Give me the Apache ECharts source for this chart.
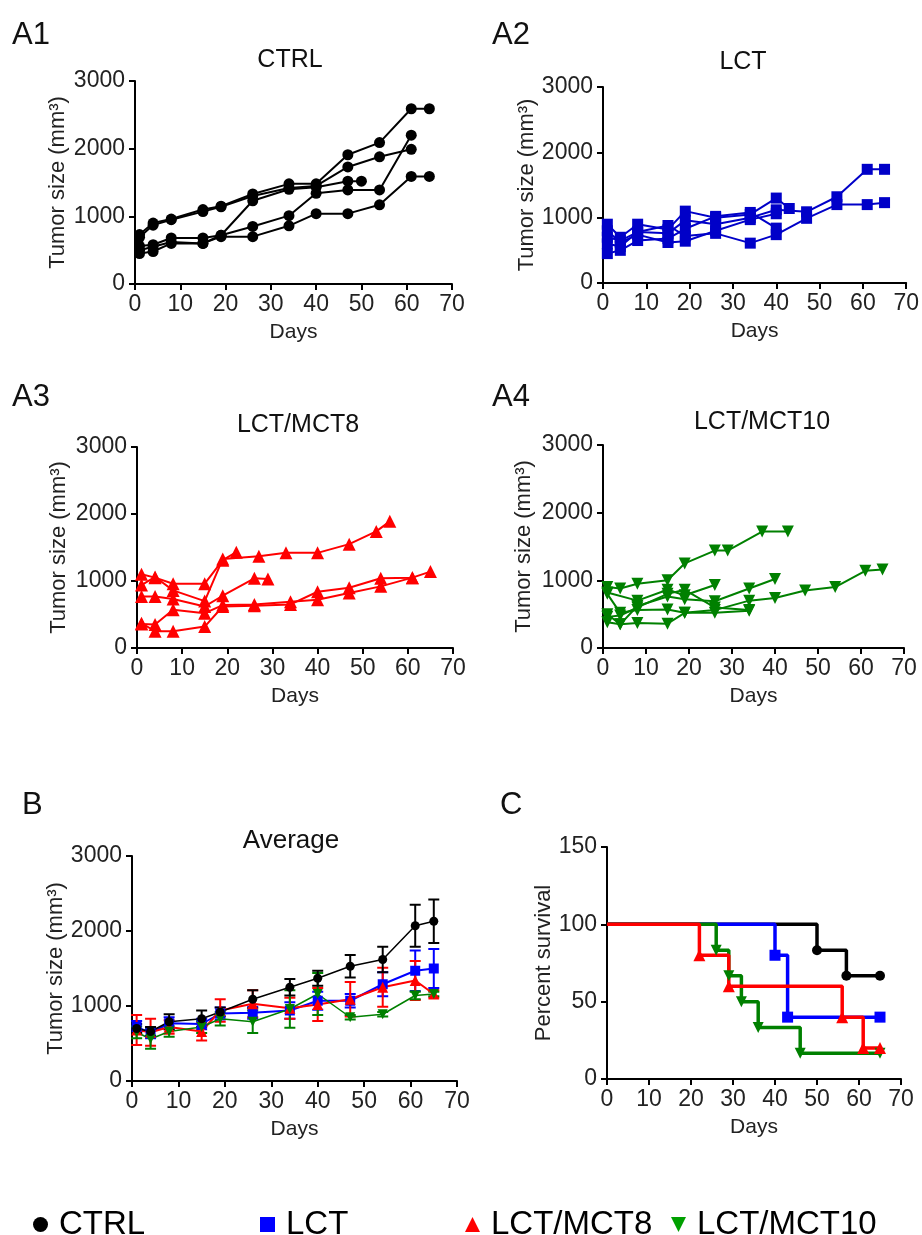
<!DOCTYPE html>
<html>
<head>
<meta charset="utf-8">
<script src="https://cdn.jsdelivr.net/npm/echarts@6/dist/echarts.min.js"></script>
<style>
  html, body { margin: 0; padding: 0; background: #fff; }
  #chart { width: 922px; height: 1235px; }
</style>
</head>
<body>
<div id="chart"></div>
<script>
// individual mice, [day, tumor size mm3]
const ctrlMice = [
  [[1,730],[4,900],[8,960],[15,1100],[19,1150],[26,1330],[34,1480],[40,1480],[47,1910],[54,2090],[61,2590],[65,2590]],
  [[1,690],[4,870],[8,950],[15,1070],[19,1140],[26,1300],[34,1420],[40,1450],[47,1730],[54,1880],[61,1990]],
  [[1,560],[4,580],[8,680],[15,680],[19,720],[26,1230],[34,1400],[40,1430],[47,1520],[50,1520]],
  [[1,500],[4,550],[8,620],[15,600],[19,720],[26,850],[34,1010],[40,1340],[47,1390],[54,1390],[61,2200]],
  [[1,450],[4,480],[8,600],[15,600],[19,700],[26,700],[34,860],[40,1040],[47,1040],[54,1170],[61,1590],[65,1590]]
];
const lctMice = [
  [[1,900],[4,700],[8,900],[15,820],[19,1100],[26,1000],[34,1050],[40,1300],[43,1140]],
  [[1,700],[4,650],[8,780],[15,760],[19,960],[26,900],[34,1000],[40,1120],[47,1090],[54,1320],[61,1740],[65,1740]],
  [[1,450],[4,500],[8,650],[15,680],[19,830],[26,1020],[34,1080],[40,840]],
  [[1,600],[4,560],[8,780],[15,880],[19,720],[26,760],[34,610],[40,740],[47,990],[54,1200],[61,1200],[65,1230]],
  [[1,800],[4,620],[8,740],[15,620],[19,640],[26,800],[34,970],[40,1060]]
];
const mct8Mice = [
  [[1,1100],[4,1050],[8,960],[15,960],[19,1310],[22,1430]],
  [[1,940],[4,1060],[8,860],[15,700],[19,1330],[27,1370],[33,1420],[40,1420],[47,1550],[53,1740],[56,1890]],
  [[1,770],[4,770],[8,730],[15,620],[19,780],[26,1040],[29,1030]],
  [[1,360],[4,350],[8,570],[15,520],[19,640],[26,650],[34,690],[40,720],[47,820],[54,920],[61,1050]],
  [[1,370],[4,250],[8,250],[15,320],[19,620],[26,630],[34,650],[40,840],[47,900],[54,1040],[61,1050],[65,1140]]
];
const mct10Mice = [
  [[1,900],[4,880],[8,950],[15,1000],[19,1250],[26,1440],[29,1440],[37,1720],[43,1720]],
  [[1,800],[4,520],[8,560],[15,570],[19,520],[26,560],[34,700],[40,740],[47,850],[54,900],[61,1140],[65,1160]],
  [[1,500],[4,350],[8,620],[15,760],[19,720],[26,690],[34,880],[40,1020]],
  [[1,820],[8,700],[15,860],[19,780],[26,930]],
  [[1,380],[4,350],[8,370],[15,360],[19,520],[26,520],[34,550]],
  [[1,460],[4,480],[8,600],[15,800],[19,860],[26,600],[34,560]]
];

// group averages
const avgDays = [1, 4, 8, 15, 19, 26, 34, 40, 47, 54, 61, 65];
const ctrlMean = [700, 660, 790, 830, 920, 1090, 1250, 1370, 1530, 1620, 2070, 2130];
const ctrlErr = [60, 60, 100, 110, 60, 120, 110, 100, 150, 170, 280, 290];
const lctMean = [720, 640, 770, 760, 900, 910, 940, 1070, 1070, 1290, 1470, 1500];
const lctErr = [80, 70, 80, 70, 80, 80, 110, 120, 90, 160, 270, 260];
const mct8Mean = [680, 650, 720, 660, 940, 1030, 970, 1020, 1090, 1250, 1340, 1160];
const mct8Err = [200, 180, 90, 120, 150, 180, 140, 220, 230, 260, 260, 50];
const mct10Mean = [650, 560, 660, 720, 830, 790, 960, 1160, 850, 890, 1140, 1160];
const mct10Err = [80, 130, 70, 80, 90, 150, 250, 280, 30, 30, 50, 30];

// survival, [day, percent]
const ctrlSurv = [[0,100],[50,83.3],[57,66.7],[65,66.7]];
const lctSurv = [[0,100],[40,80],[43,40],[65,40]];
const mct8Surv = [[0,100],[22,80],[29,60],[56,40],[61,20],[65,20]];
const mct10Surv = [[0,100],[26,83.3],[29,66.7],[32,50],[36,33.3],[46,16.7],[65,16.7]];

const groupNames = ['CTRL', 'LCT', 'LCT/MCT8', 'LCT/MCT10'];
const panelTitles = ['CTRL', 'LCT', 'LCT/MCT8', 'LCT/MCT10', 'Average'];

const FONT = 'Liberation Sans, Arial, sans-serif';
const downTri = 'path://M0,0L10,0L5,10Z';

const chart = echarts.init(document.getElementById('chart'));

const grids = [
  {left: 135, top: 81, width: 317, height: 203},
  {left: 603, top: 87, width: 309, height: 196},
  {left: 137, top: 447, width: 316, height: 201},
  {left: 603, top: 445, width: 301, height: 203},
  {left: 132, top: 856, width: 325, height: 225},
  {left: 607, top: 847, width: 294, height: 232}
];

const axisCommon = {
  axisLine: {lineStyle: {color: '#000', width: 2}},
  axisTick: {length: 6, lineStyle: {color: '#000', width: 2}},
  splitLine: {show: false},
  nameTextStyle: {fontSize: 22, color: '#222', fontFamily: FONT}
};
const plainNum = v => String(v);

const xAxes = grids.map((g, i) => Object.assign({}, axisCommon, {
  type: 'value', gridIndex: i, min: 0, max: 70, interval: 10,
  name: 'Days', nameLocation: 'middle', nameGap: 38,
  nameTextStyle: {fontSize: 21, color: '#222', fontFamily: FONT},
  axisLabel: {fontSize: 23, color: '#222', fontFamily: FONT, margin: 9, formatter: plainNum}
}));

const yNameGaps = [66, 64, 67, 68, 65, 48];
const yAxes = grids.map((g, i) => Object.assign({}, axisCommon, {
  type: 'value', gridIndex: i, min: 0,
  max: i === 5 ? 150 : 3000, interval: i === 5 ? 50 : 1000,
  name: i === 5 ? 'Percent survival' : 'Tumor size (mm³)',
  nameLocation: 'middle', nameGap: yNameGaps[i],
  axisLabel: {fontSize: 23, color: '#222', fontFamily: FONT, margin: 10, formatter: plainNum}
}));

const series = [];

const miceGroups = [
  {mice: ctrlMice, color: '#000000', symbol: 'circle', size: 11},
  {mice: lctMice, color: '#0000c8', symbol: 'rect', size: 11},
  {mice: mct8Mice, color: '#ff0000', symbol: 'triangle', size: 13},
  {mice: mct10Mice, color: '#008000', symbol: downTri, size: 12}
];
miceGroups.forEach((grp, gi) => {
  grp.mice.forEach(m => {
    series.push({
      name: groupNames[gi], type: 'line', xAxisIndex: gi, yAxisIndex: gi,
      data: m, symbol: grp.symbol, symbolSize: grp.size,
      lineStyle: {color: grp.color, width: 2}, itemStyle: {color: grp.color},
      animation: false
    });
  });
});

// averages with error bars (panel B)
const avgGroups = [
  {name: 'LCT', mean: lctMean, err: lctErr, color: '#0000ff', symbol: 'rect', size: 10, lw: 2},
  {name: 'LCT/MCT8', mean: mct8Mean, err: mct8Err, color: '#ff0000', symbol: 'triangle', size: 11, lw: 2},
  {name: 'LCT/MCT10', mean: mct10Mean, err: mct10Err, color: '#008000', symbol: downTri, size: 10, lw: 1.5},
  {name: 'CTRL', mean: ctrlMean, err: ctrlErr, color: '#000000', symbol: 'circle', size: 9, lw: 1.5}
];
avgGroups.forEach(grp => {
  const errData = avgDays.map((d, k) => [d, grp.mean[k], grp.err[k]]);
  series.push({
    name: grp.name, type: 'custom', xAxisIndex: 4, yAxisIndex: 4,
    data: errData, encode: {x: 0, y: 1},
    renderItem: (params, api) => {
      const x = api.value(0), y = api.value(1), e = api.value(2);
      const top = api.coord([x, y + e]);
      const bot = api.coord([x, y - e]);
      const hw = 5.5;
      const st = {stroke: grp.color, lineWidth: 2};
      return {
        type: 'group',
        children: [
          {type: 'line', shape: {x1: top[0], y1: top[1], x2: bot[0], y2: bot[1]}, style: st},
          {type: 'line', shape: {x1: top[0] - hw, y1: top[1], x2: top[0] + hw, y2: top[1]}, style: st},
          {type: 'line', shape: {x1: bot[0] - hw, y1: bot[1], x2: bot[0] + hw, y2: bot[1]}, style: st}
        ]
      };
    },
    animation: false
  });
  series.push({
    name: grp.name, type: 'line', xAxisIndex: 4, yAxisIndex: 4,
    data: avgDays.map((d, k) => [d, grp.mean[k]]),
    symbol: grp.symbol, symbolSize: grp.size,
    lineStyle: {color: grp.color, width: grp.lw}, itemStyle: {color: grp.color},
    animation: false
  });
});

// survival (panel C)
const survGroups = [
  {name: 'CTRL', data: ctrlSurv, color: '#000000', symbol: 'circle', size: 10},
  {name: 'LCT', data: lctSurv, color: '#0000ff', symbol: 'rect', size: 11},
  {name: 'LCT/MCT10', data: mct10Surv, color: '#008000', symbol: downTri, size: 11},
  {name: 'LCT/MCT8', data: mct8Surv, color: '#ff0000', symbol: 'triangle', size: 12}
];
survGroups.forEach(grp => {
  series.push({
    name: grp.name, type: 'line', xAxisIndex: 5, yAxisIndex: 5, step: 'end',
    data: grp.data.map((p, k) => k === 0 ? {value: p, symbol: 'none'} : p),
    symbol: grp.symbol, symbolSize: grp.size,
    lineStyle: {color: grp.color, width: 3.5}, itemStyle: {color: grp.color},
    animation: false
  });
});

const titlePos = [[290, 48], [743, 50], [298, 413], [762, 410], [291, 828]];
const titles = panelTitles.map((t, i) => ({
  text: t, left: titlePos[i][0], top: titlePos[i][1], textAlign: 'center', padding: 0,
  textStyle: {fontSize: i === 4 ? 26 : 25, fontWeight: 'normal', color: '#111', fontFamily: FONT}
}));

const letters = [['A1', 12, 20], ['A2', 492, 20], ['A3', 12, 382], ['A4', 492, 382], ['B', 22, 790], ['C', 500, 790]];
const graphic = letters.map(l => ({
  type: 'text', x: l[1], y: l[2],
  style: {text: l[0], fontSize: 31, fill: '#111', fontFamily: FONT}
}));

const legendIcons = ['circle', 'rect', 'triangle', downTri];
const legendColors = ['#000000', '#0000ff', '#ff0000', '#00a000'];
const legendLeft = [28, 255, 460, 666];
const legends = groupNames.map((n, i) => ({
  left: legendLeft[i], top: 1203, selectedMode: false,
  itemWidth: 15, itemHeight: 15,
  data: [{name: n, icon: legendIcons[i], itemStyle: {color: legendColors[i]}}],
  textStyle: {fontSize: 33, color: '#000', fontFamily: FONT, padding: [0, 0, 0, 6]}
}));

chart.setOption({
  animation: false,
  title: titles,
  graphic: graphic,
  legend: legends,
  grid: grids,
  xAxis: xAxes,
  yAxis: yAxes,
  series: series
});
</script>
</body>
</html>
